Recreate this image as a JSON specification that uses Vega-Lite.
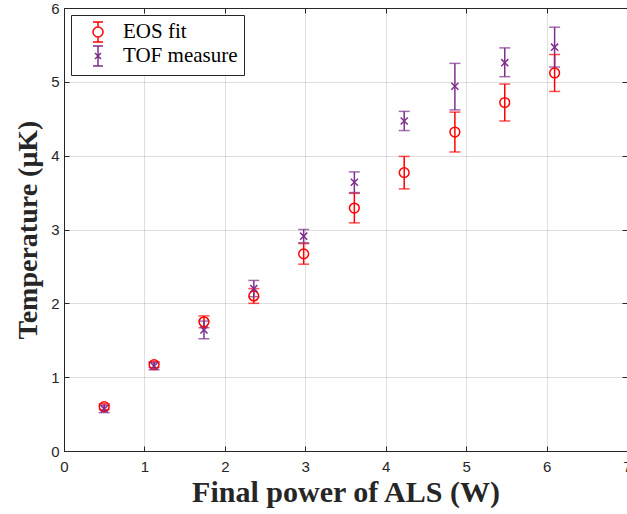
{
  "$schema": "https://vega.github.io/schema/vega-lite/v6.json",
  "width": 563,
  "height": 443,
  "autosize": {"type": "none"},
  "padding": {"left": 64, "top": 8, "right": 0, "bottom": 63},
  "background": "white",
  "config": {
    "view": {"stroke": "#262626", "strokeWidth": 1},
    "axis": {
      "domainColor": "#262626",
      "tickColor": "#262626",
      "labelColor": "#262626",
      "labelFont": "Liberation Sans",
      "labelFontSize": 15,
      "labelFlush": false,
      "titleFont": "Liberation Serif",
      "titleFontWeight": "bold",
      "titleColor": "#262626",
      "gridColor": "#262626",
      "gridOpacity": 0.15
    },
    "legend": {
      "labelFont": "Liberation Serif",
      "labelFontSize": 21,
      "labelColor": "#000000"
    }
  },
  "data": {
    "values": [
      {"power": 0.5, "T": 0.6, "lo": 0.56, "hi": 0.64, "series": "EOS fit"},
      {"power": 1.12, "T": 1.17, "lo": 1.13, "hi": 1.21, "series": "EOS fit"},
      {"power": 1.74, "T": 1.75, "lo": 1.67, "hi": 1.83, "series": "EOS fit"},
      {"power": 2.36, "T": 2.1, "lo": 2.0, "hi": 2.2, "series": "EOS fit"},
      {"power": 2.98, "T": 2.67, "lo": 2.53, "hi": 2.81, "series": "EOS fit"},
      {"power": 3.61, "T": 3.29, "lo": 3.09, "hi": 3.49, "series": "EOS fit"},
      {"power": 4.23, "T": 3.77, "lo": 3.55, "hi": 3.99, "series": "EOS fit"},
      {"power": 4.86, "T": 4.32, "lo": 4.05, "hi": 4.59, "series": "EOS fit"},
      {"power": 5.48, "T": 4.72, "lo": 4.47, "hi": 4.97, "series": "EOS fit"},
      {"power": 6.1, "T": 5.12, "lo": 4.87, "hi": 5.37, "series": "EOS fit"},
      {"power": 0.5, "T": 0.57, "lo": 0.52, "hi": 0.62, "series": "TOF measure"},
      {"power": 1.12, "T": 1.15, "lo": 1.1, "hi": 1.2, "series": "TOF measure"},
      {"power": 1.74, "T": 1.64, "lo": 1.52, "hi": 1.76, "series": "TOF measure"},
      {"power": 2.36, "T": 2.2, "lo": 2.09, "hi": 2.31, "series": "TOF measure"},
      {"power": 2.98, "T": 2.91, "lo": 2.82, "hi": 3.0, "series": "TOF measure"},
      {"power": 3.61, "T": 3.64, "lo": 3.5, "hi": 3.78, "series": "TOF measure"},
      {"power": 4.23, "T": 4.47, "lo": 4.34, "hi": 4.6, "series": "TOF measure"},
      {"power": 4.86, "T": 4.94, "lo": 4.62, "hi": 5.25, "series": "TOF measure"},
      {"power": 5.48, "T": 5.26, "lo": 5.07, "hi": 5.46, "series": "TOF measure"},
      {"power": 6.1, "T": 5.47, "lo": 5.2, "hi": 5.74, "series": "TOF measure"}
    ]
  },
  "resolve": {"axis": {"x": "independent", "y": "independent"}},
  "layer": [
    {
      "mark": {"type": "rule", "strokeWidth": 1.5},
      "encoding": {
        "x": {"field": "power", "type": "quantitative",
              "scale": {"domain": [0, 7], "nice": false},
              "axis": {"orient": "bottom", "values": [0,1,2,3,4,5,6,7], "title": "Final power of ALS (W)",
                       "titleFontSize": 30,
                       "grid": true, "tickSize": -5, "labelPadding": 13, "titlePadding": 3, "domain": true}},
        "y": {"field": "lo", "type": "quantitative",
              "scale": {"domain": [0, 6], "nice": false},
              "axis": {"orient": "left", "values": [0,1,2,3,4,5,6], "title": "Temperature (μK)",
                       "titleFontSize": 28,
                       "grid": true, "tickSize": -5, "labelPadding": 10, "titlePadding": 8, "domain": true}},
        "y2": {"field": "hi"},
        "color": {"field": "series", "type": "nominal",
                  "scale": {"domain": ["EOS fit", "TOF measure"], "range": ["#FF0000", "#7E2F8E"]},
                  "legend": {
                    "title": null, "orient": "top-left", "offset": 7,
                    "strokeColor": "#262626", "fillColor": "white", "padding": 6,
                    "labelFont": "Liberation Serif", "labelFontSize": 21, "labelColor": "#000000",
                    "symbolSize": 400, "symbolStrokeWidth": 1.5, "symbolFillColor": "transparent",
                    "symbolOffset": 10, "labelOffset": 14, "rowPadding": -3,
                    "encode": {
                      "symbols": {"update": {
                        "shape": {"signal": "datum.value == 'EOS fit' ? 'M-0.5,0A0.5,0.5 0 1,0 0.5,0A0.5,0.5 0 1,0 -0.5,0ZM0,-1L0,-0.5M0,0.5L0,1M-0.5,-1L0.5,-1M-0.5,1L0.5,1' : 'M-0.3,-0.3L0.3,0.3M-0.3,0.3L0.3,-0.3M0,-1L0,1M-0.5,-1L0.5,-1M-0.5,1L0.5,1'"},
                        "fill": {"value": "transparent"},
                        "fillOpacity": {"value": 0}
                      }}
                    }
                  }}
      }
    },
    {
      "mark": {"type": "tick", "orient": "horizontal", "size": 11, "thickness": 1.5},
      "encoding": {
        "x": {"field": "power", "type": "quantitative",
              "axis": {"orient": "top", "values": [0,1,2,3,4,5,6,7], "labels": false, "title": null,
                       "grid": false, "tickSize": -5, "domain": true}},
        "y": {"field": "hi", "type": "quantitative",
              "axis": {"orient": "right", "values": [0,1,2,3,4,5,6], "labels": false, "title": null,
                       "grid": false, "tickSize": -5, "domain": true}},
        "color": {"field": "series", "type": "nominal"}
      }
    },
    {
      "mark": {"type": "tick", "orient": "horizontal", "size": 11, "thickness": 1.5},
      "encoding": {
        "x": {"field": "power", "type": "quantitative", "axis": null},
        "y": {"field": "lo", "type": "quantitative", "axis": null},
        "color": {"field": "series", "type": "nominal"}
      }
    },
    {
      "transform": [{"filter": "datum.series == 'EOS fit'"}],
      "mark": {"type": "point", "shape": "circle", "filled": false, "size": 95, "strokeWidth": 1.5, "opacity": 1},
      "encoding": {
        "x": {"field": "power", "type": "quantitative", "axis": null},
        "y": {"field": "T", "type": "quantitative", "axis": null},
        "color": {"field": "series", "type": "nominal"}
      }
    },
    {
      "transform": [{"filter": "datum.series == 'TOF measure'"}],
      "mark": {"type": "point", "shape": "M-1,-1L1,1M-1,1L1,-1", "filled": false, "size": 50, "strokeWidth": 1.5, "opacity": 1},
      "encoding": {
        "x": {"field": "power", "type": "quantitative", "axis": null},
        "y": {"field": "T", "type": "quantitative", "axis": null},
        "color": {"field": "series", "type": "nominal"}
      }
    }
  ]
}
